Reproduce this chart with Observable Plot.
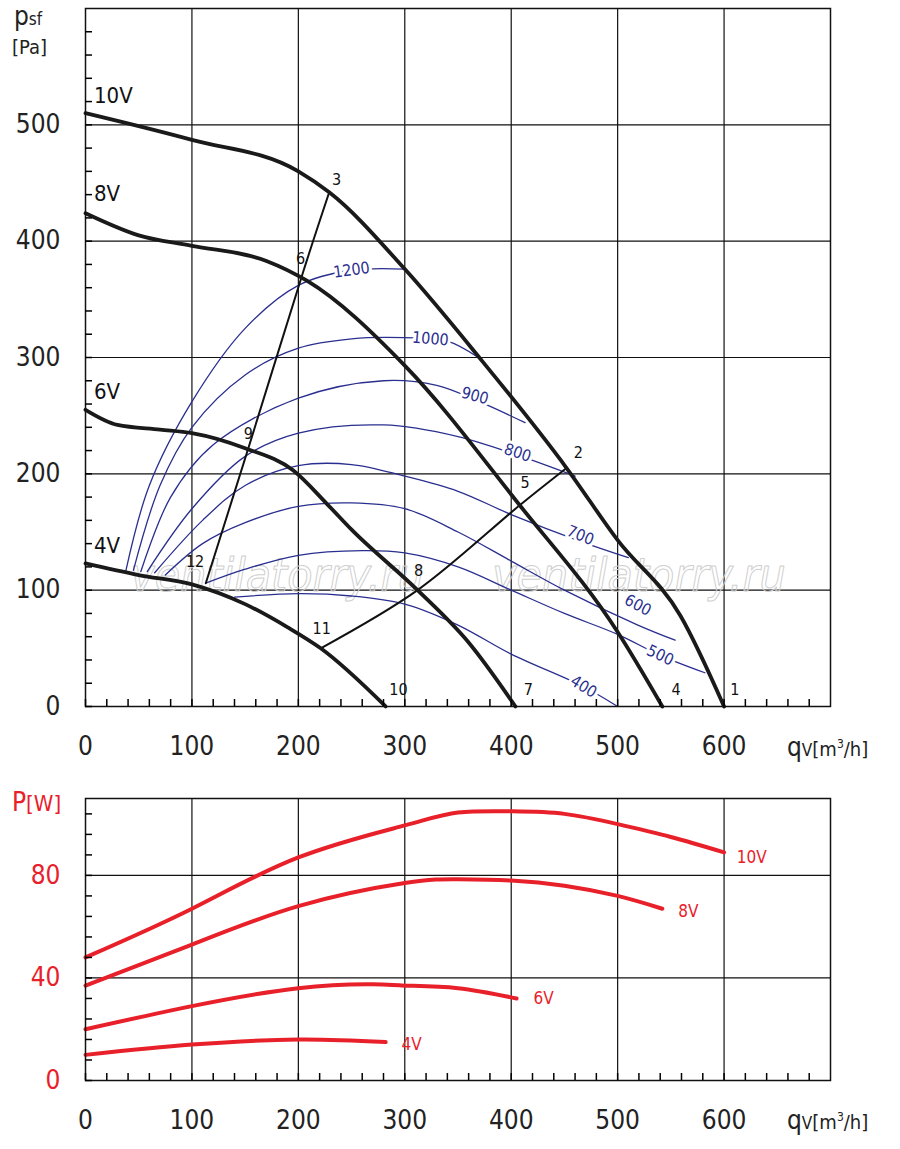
<!DOCTYPE html>
<html><head><meta charset="utf-8">
<script src="https://cdn.jsdelivr.net/npm/d3@7"></script>
<script src="https://cdn.jsdelivr.net/npm/@observablehq/plot@0.6"></script>
<style>
body{margin:0;background:#fff;font-family:"DejaVu Sans Condensed","DejaVu Sans",sans-serif;}
#wrap{position:relative;width:900px;height:1149px;}
#topc,#botc{display:block;line-height:0;}
.lab{position:absolute;font-size:26px;color:#222;white-space:nowrap;line-height:1.1;}
.red{color:#e8202a;}
</style></head><body>
<div id="wrap">
<div id="topc"></div><div id="botc"></div>
<div class="lab" style="left:14px;top:2px">p<span style="font-size:17px">sf</span></div>
<div class="lab" style="left:12px;top:36px;font-size:20px">[Pa]</div>
<div class="lab" style="left:787px;top:733px">q<span style="font-size:17px">V</span><span style="font-size:20px">[m<sup style="font-size:12px">3</sup>/h]</span></div>
<div class="lab red" style="left:12px;top:788px">P<span style="font-size:22px">[W]</span></div>
<div class="lab" style="left:787px;top:1106px">q<span style="font-size:17px">V</span><span style="font-size:20px">[m<sup style="font-size:12px">3</sup>/h]</span></div>
</div>
<script>
// fan curves [q, p]
const fan10 = [[0,510],[100,487],[200,460],[229,442],[300,376],[370,300],[452,205],[500,143],[559,78],[600,0]];
const fan8  = [[0,424],[50,405],[100,396],[170,383],[208,366],[300,293],[408,173],[500,64],[542,0]];
const fan6  = [[0,255],[30,242],[70,238],[100,235],[150,222],[195,203],[227,174],[250,152],[312,100],[360,55],[404,0]];
const fan4  = [[0,123],[50,113],[100,105],[150,88],[190,68],[221,50],[282,0]];
const sysA  = [[229,442],[205,375],[153,222],[113,106]];
const sysB  = [[452,205],[408,173],[312,100],[221,50]];
// iso rpm curves
const rpm1200 = [[38,117],[60,190],[100,262],[150,325],[200,362],[250,375],[300,376]];
const rpm1000 = [[45,117],[70,190],[100,240],[150,285],[200,308],[250,316],[300,317],[340,314],[369,300]];
const rpm900  = [[52,116],[80,180],[120,225],[200,265],[280,280],[330,276],[370,262],[413,244]];
const rpm800  = [[58,116],[100,170],[150,215],[200,235],[280,242],[350,232],[406,216],[460,198]];
const rpm700  = [[65,115],[110,160],[150,190],[200,207],[250,208],[300,198],[350,185],[400,165],[465,142],[510,128]];
const rpm600  = [[75,113],[110,140],[150,158],[200,172],[250,175],[300,170],[350,150],[400,125],[450,100],[519,70],[554,57]];
const rpm500  = [[113,106],[150,118],[200,130],[260,134],[300,132],[350,120],[400,100],[450,80],[500,62],[540,44],[582,29]];
const rpm400  = [[140,94],[200,97],[250,95],[300,88],[350,70],[400,45],[468,17],[500,0]];
const rpmLabels = [["1200",250,375,-8],["1000",324,316,5],["900",366,267,15],["800",406,218,18],["700",465,147,22],["600",519,87,28],["500",540,44,25],["400",468,17,32]];
const fanLabels = [["10V",8,525],["8V",8,441],["6V",8,270],["4V",8,138]];
const pointLabels = [["1",610,14],["2",463,218],["3",236,453],["4",555,14],["5",413,192],["6",202,385],["7",416,14],["8",313,117],["9",153,234],["10",294,14],["11",222,67],["12",103,124]];
// power curves [q, P]
const pw10 = [[0,48],[100,67],[200,87],[300,99.5],[350,104.5],[400,105],[450,104],[500,100],[550,95],[600,89]];
const pw8  = [[0,37],[100,53],[200,68],[300,77],[350,78.5],[400,78],[450,76],[500,72],[542,67]];
const pw6  = [[0,20],[100,29],[200,36],[270,37.5],[300,37],[350,36],[405,32]];
const pw4  = [[0,10],[100,14],[200,16],[282,15]];
const pwLabels = [["10V",610,87],["8V",555,66],["6V",419,32],["4V",295,14]];

const font = '"DejaVu Sans Condensed","DejaVu Sans",sans-serif';
const blue = "#2a2f8f", red = "#e8202a";
const L = (d, c, o) => Plot.line(d, {x:d=>d[0], y:d=>d[1], curve:c, ...o});

const chartTop = Plot.plot({
  width:900, height:766, marginLeft:85, marginRight:70, marginTop:8, marginBottom:60,
  style:{fontFamily:font, background:"white", overflow:"visible"},
  x:{domain:[0,700]}, y:{domain:[0,600]},
  marks:[
    Plot.ruleX([100,200,300,400,500,600], {stroke:"#111", strokeWidth:1.2}),
    Plot.ruleY([100,200,300,400,500], {stroke:"#111", strokeWidth:1.2}),
    Plot.text(["ventilatorry.ru","ventilatorry.ru"], {x:[180,520], y:[112,112], fontSize:46, fontStyle:"italic", fill:"none", stroke:"#cfcfcf", strokeWidth:1, text:d=>d}),
    ...[rpm1200,rpm1000,rpm900,rpm800,rpm700,rpm600,rpm500,rpm400].map(d=>L(d,"catmull-rom",{stroke:blue, strokeWidth:1.3})),
    Plot.text(rpmLabels, {x:d=>d[1], y:d=>d[2], text:d=>d[0], rotate:d=>d[3], fill:blue, fontSize:16, stroke:"white", strokeWidth:6, paintOrder:"stroke"}),
    ...[sysA,sysB].map(d=>L(d,"catmull-rom",{stroke:"#111", strokeWidth:2})),
    ...[fan10,fan8,fan6,fan4].map(d=>L(d,"monotone-x",{stroke:"#1a1a1a", strokeWidth:3.8})),
    Plot.text(fanLabels, {x:d=>d[1], y:d=>d[2], text:d=>d[0], textAnchor:"start", fontSize:22, fill:"#111"}),
    Plot.text(pointLabels, {x:d=>d[1], y:d=>d[2], text:d=>d[0], fontSize:16, fill:"#111"}),
    Plot.frame({stroke:"#111", strokeWidth:1.5}),
    Plot.axisY({ticks:d3.range(0,600,20), tickSize:-7, tickFormat:()=>"", strokeWidth:1.5}),
    Plot.axisY({ticks:[0,100,200,300,400,500], tickSize:0, tickPadding:25, fontSize:26, fill:"#222"}),
    Plot.axisX({ticks:d3.range(0,700,20), tickSize:-7, tickFormat:()=>"", strokeWidth:1.5}),
    Plot.axisX({ticks:[0,100,200,300,400,500,600], tickSize:0, tickPadding:30, fontSize:26, fill:"#222"})
  ]
});
document.getElementById("topc").append(chartTop);

const chartBot = Plot.plot({
  width:900, height:383, marginLeft:85, marginRight:70, marginTop:32, marginBottom:69,
  style:{fontFamily:font, background:"white", overflow:"visible"},
  x:{domain:[0,700]}, y:{domain:[0,110]},
  marks:[
    Plot.ruleX([100,200,300,400,500,600], {stroke:"#111", strokeWidth:1.2}),
    Plot.ruleY([40,80], {stroke:"#111", strokeWidth:1.2}),
    ...[pw10,pw8,pw6,pw4].map(d=>L(d,"natural",{stroke:red, strokeWidth:4})),
    Plot.text(pwLabels, {x:d=>d[1], y:d=>d[2], text:d=>d[0], textAnchor:"start", dx:2, fontSize:17, fill:red}),
    Plot.frame({stroke:"#111", strokeWidth:1.5}),
    Plot.axisY({ticks:d3.range(0,110,8), tickSize:-7, tickFormat:()=>"", strokeWidth:1.5}),
    Plot.axisY({ticks:[0,40,80], tickSize:0, tickPadding:25, fontSize:26, fill:red}),
    Plot.axisX({ticks:d3.range(0,700,20), tickSize:-7, tickFormat:()=>"", strokeWidth:1.5}),
    Plot.axisX({ticks:[0,100,200,300,400,500,600], tickSize:0, tickPadding:30, fontSize:26, fill:"#222"})
  ]
});
document.getElementById("botc").append(chartBot);
</script></body></html>
